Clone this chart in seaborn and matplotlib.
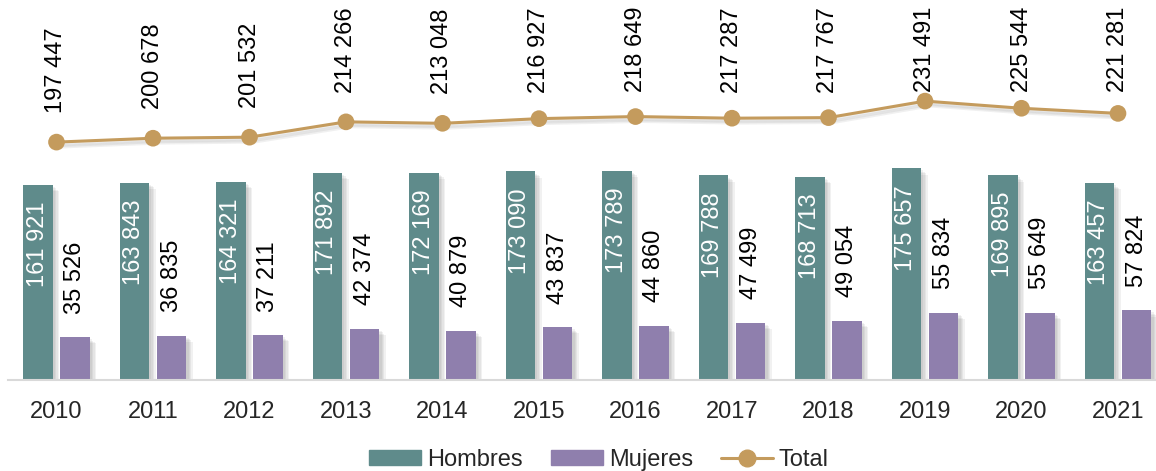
import numpy as np
import pandas as pd
import matplotlib
matplotlib.use("Agg")
import matplotlib.pyplot as plt
import matplotlib.patheffects as pe
import seaborn as sns
from matplotlib.patches import Patch
from matplotlib.lines import Line2D

years = ["2010", "2011", "2012", "2013", "2014", "2015", "2016", "2017", "2018", "2019", "2020", "2021"]
hombres = [161921, 163843, 164321, 171892, 172169, 173090, 173789, 169788, 168713, 175657, 169895, 163457]
mujeres = [35526, 36835, 37211, 42374, 40879, 43837, 44860, 47499, 49054, 55834, 55649, 57824]
total = [197447, 200678, 201532, 214266, 213048, 216927, 218649, 217287, 217767, 231491, 225544, 221281]

c_h = "#5f8b8b"
c_m = "#8f7fad"
c_t = "#c49b5d"

sns.set_theme(style="white")
plt.rcParams["font.family"] = ["Liberation Sans", "DejaVu Sans"]
plt.rcParams["font.size"] = 17

df = pd.DataFrame({
    "year": years * 2,
    "sexo": ["Hombres"] * len(years) + ["Mujeres"] * len(years),
    "valor": hombres + mujeres,
})

fig = plt.figure(figsize=(11.56, 4.71), dpi=100)
ax = fig.add_axes([8.25 / 1156, 91 / 471, 1158 / 1156, 380 / 471])

sns.barplot(data=df, x="year", y="valor", hue="sexo", order=years,
            hue_order=["Hombres", "Mujeres"], palette=[c_h, c_m],
            width=0.77, gap=0.2, saturation=1, linewidth=0, ax=ax, legend=False)

# sombra suave (varias capas)
bar_shadow = [pe.SimplePatchShadow(offset=(k, -k), shadow_rgbFace="#555555", alpha=0.08)
              for k in (1.5, 2.5, 3.5, 4.5)] + [pe.Normal()]
for cont in ax.containers:
    for p in cont:
        p.set_path_effects(bar_shadow)

xs = np.arange(len(years))
line_shadow = [pe.SimpleLineShadow(offset=(k, -k), shadow_color="#444444", alpha=0.08)
               for k in (1.5, 2.5, 3.5)] + [pe.Normal()]
sns.lineplot(x=xs, y=total, color=c_t, marker="o", markersize=12, linewidth=2.2,
             markeredgewidth=0, ax=ax, legend=False, path_effects=line_shadow)

ax.set_xlim(-0.5, 11.5)
ax.set_ylim(0, 315400)

fmt = lambda v: f"{v:,}".replace(",", " ")

# etiquetas de las barras
for p, v in zip(ax.containers[0], hombres):
    ax.annotate(fmt(v), (p.get_x() + p.get_width() / 2, p.get_height()),
                xytext=(0, -12), textcoords="offset points", rotation=90,
                ha="center", va="top", color="white", fontsize=17)
for p, v in zip(ax.containers[1], mujeres):
    ax.annotate(fmt(v), (p.get_x() + p.get_width() / 2, p.get_height()),
                xytext=(0, 17), textcoords="offset points", rotation=90,
                ha="center", va="bottom", color="black", fontsize=17)

# etiquetas del total (se recortan contra el borde superior)
top_px = ax.transAxes.transform((0, 1))[1]
for x, v in zip(xs, total):
    py = ax.transData.transform((x, v))[1]
    off_px = min(115, top_px - 7 - py)
    ax.annotate(fmt(v), (x, v), xytext=(0, off_px * 0.72), textcoords="offset points",
                rotation=90, ha="center", va="top", color="black", fontsize=17)

ax.set_xlabel("")
ax.set_ylabel("")
ax.set_yticks([])
ax.tick_params(axis="x", length=0, pad=15, labelsize=17)
for s in ["top", "right", "left"]:
    ax.spines[s].set_visible(False)
ax.spines["bottom"].set_color("#d9d9d9")
ax.spines["bottom"].set_linewidth(1.5)

handles = [Patch(color=c_h), Patch(color=c_m),
           Line2D([], [], color=c_t, marker="o", markersize=12, linewidth=2.2)]
fig.legend(handles, ["Hombres", "Mujeres", "Total"], loc="center",
           bbox_to_anchor=(599 / 1156, 11 / 471), ncol=3, frameon=False,
           handlelength=2.2, handleheight=0.6, handletextpad=0.25, columnspacing=1.2,
           fontsize=17)

fig.savefig("out.png", dpi=100)
